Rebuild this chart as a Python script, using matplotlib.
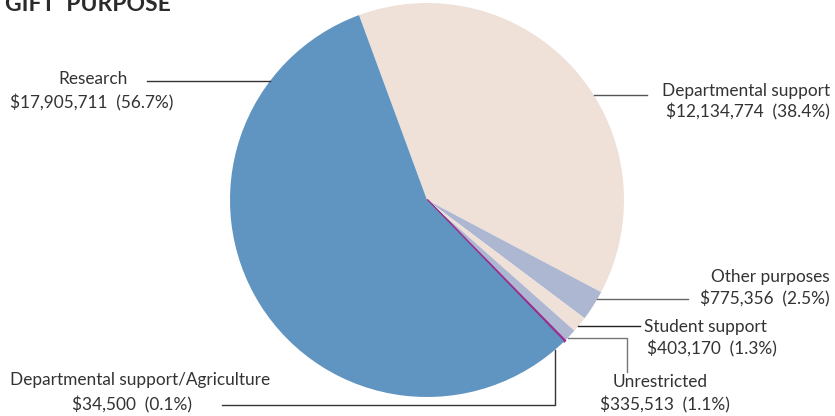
import matplotlib
matplotlib.use("Agg")
import matplotlib.pyplot as plt
import numpy as np

categories = ["Departmental support", "Other purposes", "Student support",
              "Unrestricted", "Departmental support/Agriculture", "Research"]
amounts = [12134774, 775356, 403170, 335513, 34500, 17905711]
percents = [38.4, 2.5, 1.3, 1.1, 0.1, 56.7]
colors = ["#EFE0D8", "#AEB7D2", "#EFE0D8", "#AEB7D2", "#9B2F8E", "#6095C1"]

W, H = 835, 416
fig = plt.figure(figsize=(W / 100, H / 100), dpi=100)
ax = fig.add_axes([0, 0, 1, 1])

cx, cy, r = 427, 216, 197
wedges, _ = ax.pie(percents, colors=colors, startangle=110.2, counterclock=False,
                   center=(cx, cy), radius=r, wedgeprops=dict(linewidth=0))
# thin purple slice is drawn slightly emphasised, as in the reference
wedges[4].set_edgecolor(colors[4])
wedges[4].set_linewidth(1.6)
ax.set_xlim(0, W)
ax.set_ylim(0, H)
ax.set_aspect("auto")
ax.axis("off")

FONT = ["Lato", "DejaVu Sans"]
TC = "#333333"
FS = 12.4


def Y(py):
    return H - py


def edge_x(py, side):
    dy = Y(py) - cy
    return cx + side * np.sqrt(r * r - dy * dy)


def fmt(i):
    return f"${amounts[i]:,}  ({percents[i]:.1f}%)"


def txt(x, py, s, ha):
    ax.text(x, Y(py), s, fontsize=FS, color=TC, family=FONT, ha=ha, va="center")


# Title (partially cut at top, as in the reference)
ax.text(5, Y(11), "GIFT  PURPOSE", fontsize=16.5, fontweight="bold", color="#2b2b2b",
        family=FONT, ha="left", va="baseline")

# Research (left)
i = 5
txt(128, 79, categories[i], "right")
txt(10, 103, fmt(i), "left")
ax.plot([147, edge_x(81, -1)], [Y(81), Y(81)], color="#333333", lw=1)

# Departmental support (right)
i = 0
txt(830, 91, categories[i], "right")
txt(830, 112, fmt(i), "right")
ax.plot([edge_x(95, 1), 647], [Y(95), Y(95)], color="#555555", lw=1)

# Other purposes
i = 1
txt(830, 277, categories[i], "right")
txt(830, 299, fmt(i), "right")
ax.plot([edge_x(299, 1), 688], [Y(299), Y(299)], color="#666666", lw=1)

# Student support
i = 2
txt(644, 327, categories[i], "left")
txt(647, 349, fmt(i), "left")
ax.plot([edge_x(326, 1), 640], [Y(326), Y(326)], color="#222222", lw=1)

# Unrestricted
i = 3
txt(660, 382, categories[i], "center")
txt(665, 405, fmt(i), "center")
ax.plot([edge_x(338, 1), 627, 627], [Y(338), Y(338), Y(372)], color="#777777", lw=1)

# Departmental support/Agriculture
i = 4
txt(10, 380, categories[i], "left")
txt(132, 405, fmt(i), "center")
vx = 555
vy_edge = cy - np.sqrt(r * r - (vx - cx) ** 2)
ax.plot([222, vx, vx], [Y(405), Y(405), vy_edge], color="#333333", lw=1)

fig.savefig("out.png", dpi=100)
